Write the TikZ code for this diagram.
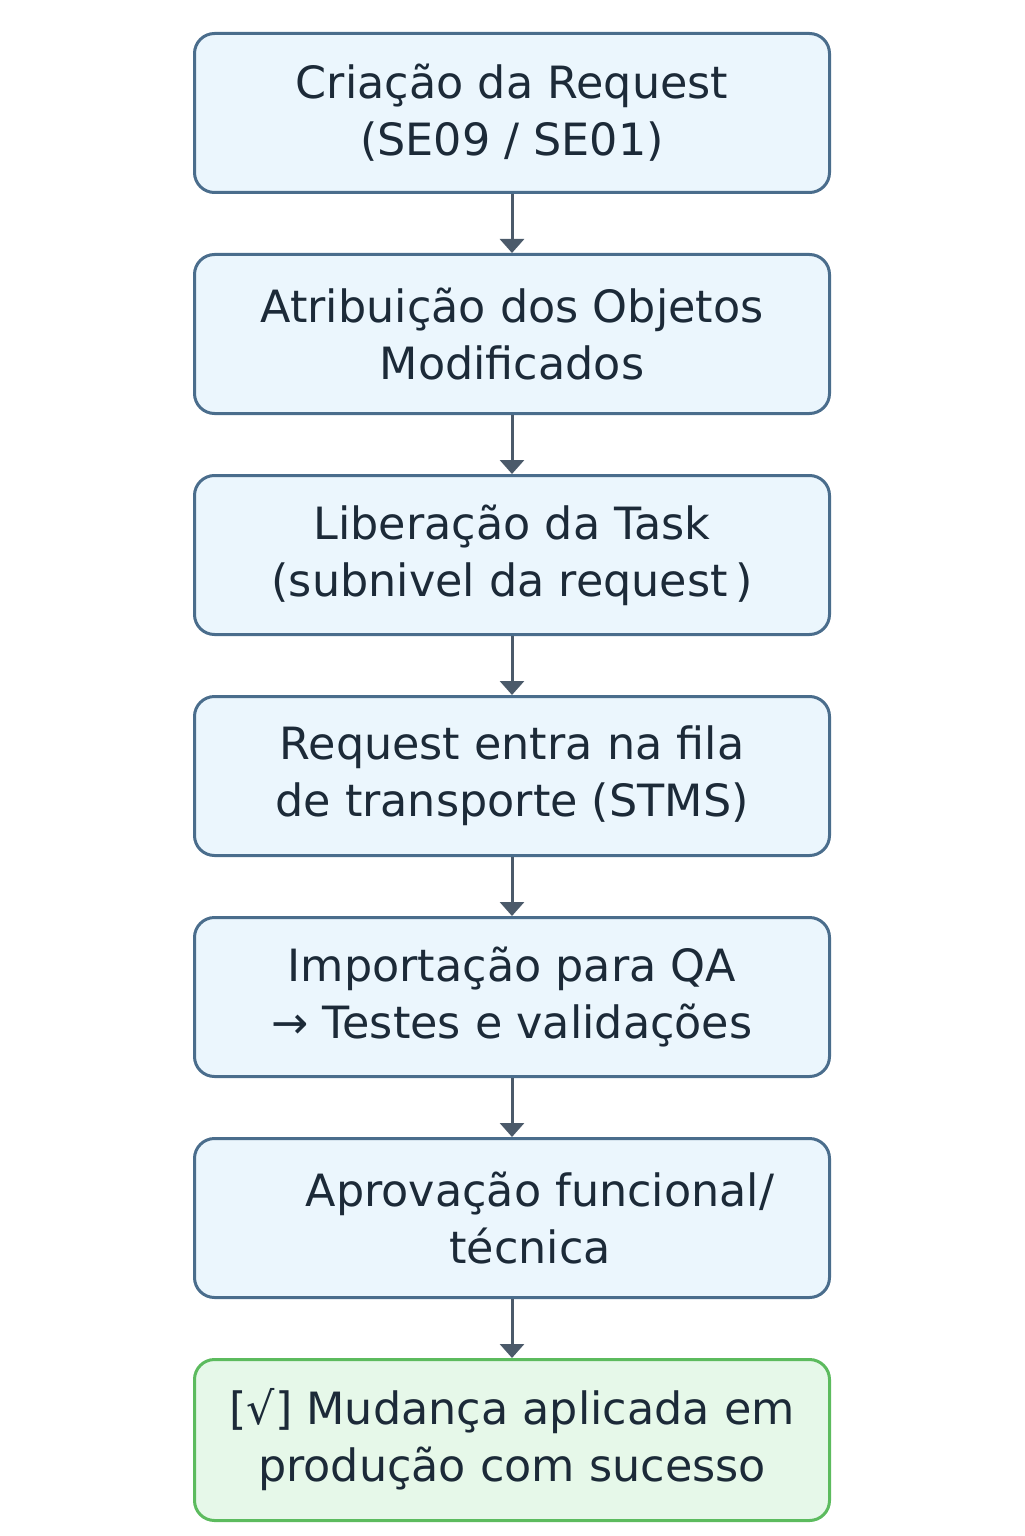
\documentclass[tikz,border=0pt]{standalone}
\usepackage{fontspec}
\setmainfont{DejaVu Sans}
\usepackage{xcolor}
\usepackage{tikz}
\usetikzlibrary{positioning,arrows.meta}
\definecolor{flowfill}{HTML}{EBF6FD}
\definecolor{flowedge}{HTML}{4A6D8C}
\definecolor{flowarrow}{HTML}{4B5A6A}
\definecolor{flowink}{HTML}{1C2A38}
\definecolor{donefill}{HTML}{E6F8E9}
\definecolor{doneedge}{HTML}{5CBB5E}

\begin{document}
\begin{tikzpicture}[
  font=\fontsize{25.3pt}{32.4pt}\selectfont,
  node distance=11.8mm,
  stage/.style={draw=flowedge, fill=flowfill, line width=0.6mm, rounded corners=4mm, align=center,
    text=flowink, minimum width=127mm, minimum height=31.8mm, inner sep=0pt},
  done/.style={stage, draw=doneedge, fill=donefill, minimum height=32.2mm},
  arr/.style={-{Triangle[length=2.8mm, width=4.8mm]}, line width=0.6mm, draw=flowarrow}
]
\useasboundingbox (0,0) rectangle (204.8mm,-307.2mm);

\node[stage] (req) at (102.4mm,-22.6mm) {Criação da Request\\(SE09 / SE01)};
\node[stage, below=of req] (obj) {Atribuição dos Objetos\\Modificados};
\node[stage, below=of obj] (task) {Liberação da Task\\(subnivel da request\,)};
\node[stage, below=of task] (stms) {Request entra na fila\\de transporte (STMS)};
\node[stage, below=of stms] (qa) {Importação para QA\\→ Testes e validações};
\node[stage, below=of qa] (aprov) {\hspace*{11.2mm}Aprovação funcional/\\\hspace*{7.2mm}técnica};
\node[done, below=of aprov] (prod) {[√] Mudança aplicada em\\produção com sucesso};

\draw[arr] (req) -- (obj); \draw[arr] (obj) -- (task); \draw[arr] (task) -- (stms);
\draw[arr] (stms) -- (qa); \draw[arr] (qa) -- (aprov); \draw[arr] (aprov) -- (prod);
\end{tikzpicture}
\end{document}
